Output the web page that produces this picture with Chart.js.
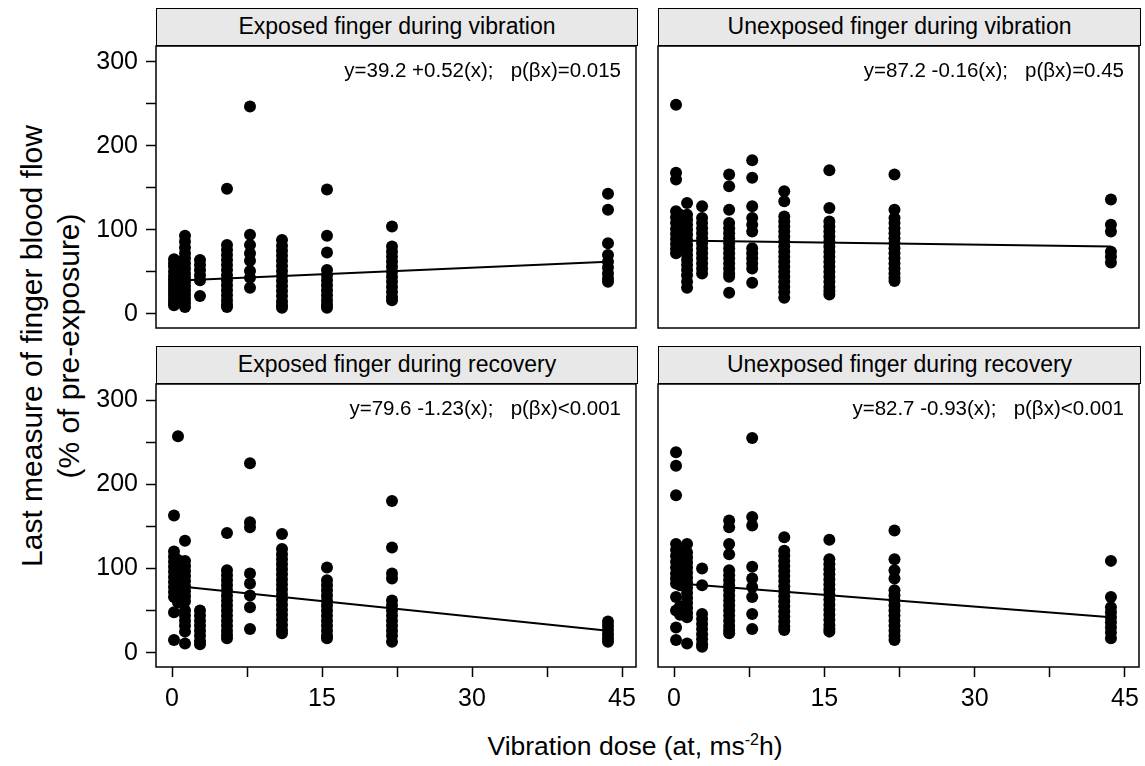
<!DOCTYPE html>
<html>
<head>
<meta charset="utf-8">
<title>Finger blood flow vs vibration dose</title>
<script src="https://cdn.jsdelivr.net/npm/chart.js@4.4.1/dist/chart.umd.min.js"></script>
<style>
  html, body { margin: 0; padding: 0; background: #fff; }
  #page {
    position: relative; width: 1145px; height: 766px; overflow: hidden;
    font-family: 'Liberation Sans', Arial, sans-serif; color: #000;
  }
  .strip {
    position: absolute; box-sizing: border-box; height: 38px;
    border: 1.5px solid #000; background: #e8e8e8;
    font-size: 23px; line-height: 34px; text-align: center; white-space: nowrap;
  }
  canvas { position: absolute; }
  #xTitle {
    position: absolute; left: 335px; width: 600px; top: 730px;
    text-align: center; font-size: 26.5px; line-height: 32px; white-space: nowrap;
  }
  #xTitle .sup { font-size: 16px; position: relative; top: -10px; }
  #yTitle {
    position: absolute; width: 560px; height: 74px; left: -230px; top: 309px;
    transform: rotate(-90deg); transform-origin: 50% 50%;
    text-align: center; font-size: 30px; line-height: 37px; white-space: nowrap;
  }
</style>
</head>
<body>
<div id="page">
  <div id="yTitle">Last measure of finger blood flow<br>(% of pre-exposure)</div>
  <div id="xTitle">Vibration dose (at, ms<span class="sup">-2</span>h)</div>
</div>
<script>
// dose groups (at, m/s^2 h) shared by all four panels
const doses = [0.2, 0.6, 1.3, 2.8, 5.5, 7.8, 11.0, 15.5, 22.0, 43.6];

const panelTitles = [
    'Exposed finger during vibration',
    'Unexposed finger during vibration',
    'Exposed finger during recovery',
    'Unexposed finger during recovery'
];

// regression fits: y = intercept + slope * x
const intercepts = [39.2, 87.2, 79.6, 82.7];
const slopes = [0.52, -0.16, -1.23, -0.93];
const pValues = ['=0.015', '=0.45', '<0.001', '<0.001'];

// blood flow readings (% of pre-exposure), one list per dose group
const exposedVibration = [
    [65, 60, 56, 50, 45, 41, 37, 33, 29, 25, 21, 17, 13, 10],
    [62, 54, 48, 42, 38, 34, 30, 26, 22, 18, 14],
    [93, 86, 79, 72, 66, 60, 54, 48, 43, 38, 33, 28, 23, 18, 13, 8],
    [64, 58, 52, 46, 40, 21],
    [149, 82, 76, 70, 64, 58, 52, 46, 40, 34, 28, 22, 16, 11, 8],
    [247, 94, 82, 72, 63, 51, 43, 31],
    [88, 81, 75, 69, 63, 57, 51, 45, 39, 33, 27, 21, 15, 10, 7],
    [148, 93, 73, 52, 46, 40, 34, 28, 22, 16, 11, 7],
    [104, 80, 74, 68, 62, 56, 50, 44, 38, 32, 26, 20, 16],
    [143, 124, 84, 70, 62, 55, 48, 42, 38]
];
const unexposedVibration = [
    [249, 168, 160, 122, 115, 108, 101, 95, 89, 83, 77, 72],
    [118, 110, 102, 96, 90, 84, 78],
    [132, 118, 112, 106, 100, 94, 88, 82, 76, 70, 64, 58, 52, 46, 38, 31],
    [128, 114, 108, 102, 96, 90, 84, 78, 72, 66, 60, 54, 48],
    [166, 152, 124, 108, 102, 96, 90, 84, 78, 72, 66, 60, 54, 48, 44, 25],
    [183, 162, 128, 114, 106, 98, 78, 72, 66, 60, 54, 37],
    [146, 134, 116, 110, 104, 98, 92, 86, 80, 74, 68, 62, 56, 50, 44, 38, 32, 26, 19],
    [171, 126, 110, 104, 98, 92, 86, 80, 74, 68, 62, 56, 50, 44, 38, 32, 27, 23],
    [166, 124, 114, 108, 102, 96, 90, 84, 78, 72, 66, 60, 54, 48, 43, 39],
    [136, 106, 98, 74, 68, 61]
];
const exposedRecovery = [
    [163, 120, 114, 108, 102, 96, 90, 84, 78, 72, 66, 48, 15],
    [257, 110, 100, 92, 84, 76, 70, 60],
    [133, 109, 103, 97, 91, 85, 79, 73, 67, 61, 50, 44, 38, 32, 25, 11],
    [50, 44, 38, 32, 26, 20, 14, 10],
    [142, 98, 92, 86, 80, 74, 68, 62, 56, 50, 44, 38, 32, 26, 21, 17],
    [225, 155, 149, 94, 82, 68, 54, 28],
    [141, 123, 117, 111, 105, 99, 93, 87, 81, 75, 69, 63, 57, 51, 45, 39, 33, 27, 23],
    [101, 86, 80, 74, 68, 62, 56, 50, 44, 38, 32, 26, 20, 17],
    [180, 125, 94, 88, 62, 56, 50, 44, 38, 32, 26, 20, 13],
    [37, 32, 27, 22, 17, 13]
];
const unexposedRecovery = [
    [238, 222, 187, 129, 122, 115, 108, 101, 94, 88, 82, 66, 50, 30, 15],
    [120, 110, 100, 90, 80, 55, 45],
    [129, 119, 113, 107, 101, 95, 89, 83, 77, 71, 65, 59, 53, 47, 42, 11],
    [100, 80, 46, 40, 34, 28, 22, 16, 10, 7],
    [157, 149, 129, 117, 98, 92, 86, 80, 74, 68, 62, 56, 50, 44, 38, 32, 27, 23],
    [255, 161, 151, 102, 88, 78, 66, 46, 28],
    [137, 121, 115, 109, 103, 97, 91, 85, 79, 73, 67, 61, 55, 49, 43, 37, 31, 27],
    [134, 111, 105, 99, 93, 87, 81, 75, 69, 63, 57, 51, 45, 39, 33, 28, 25],
    [145, 111, 98, 88, 74, 68, 62, 56, 50, 44, 38, 32, 26, 20, 15],
    [109, 66, 54, 48, 42, 36, 30, 24, 17]
];

const panelData = [exposedVibration, unexposedVibration, exposedRecovery, unexposedRecovery];

const yTicks = [0, 100, 200, 300];
const xTicks = [0, 15, 30, 45];

const FONT = "'Liberation Sans', Arial, sans-serif";
const X_MIN = -1.6, X_MAX = 46.4;
const Y_MIN = -17, Y_MAX = 319;

// plot box edges in page pixels, and which outer axes each panel shows
const layoutBoxes = [
    { left: 156, right: 638, top: 45.5, bottom: 327.5, yAxis: true,  xAxis: false },
    { left: 658, right: 1141, top: 45.5, bottom: 327.5, yAxis: false, xAxis: false },
    { left: 156, right: 638, top: 383.5, bottom: 666.5, yAxis: true,  xAxis: true },
    { left: 658, right: 1141, top: 383.5, bottom: 666.5, yAxis: false, xAxis: true }
];

// black frame round the plotting area
const panelBox = {
    id: 'panelBox',
    afterDraw(chart) {
        const { ctx, chartArea: a } = chart;
        ctx.save();
        ctx.strokeStyle = '#000';
        ctx.lineWidth = 1.5;
        ctx.strokeRect(a.left, a.top, a.right - a.left, a.bottom - a.top);
        ctx.restore();
    }
};

// regression equation in the top right corner
const fitLabel = {
    id: 'fitLabel',
    afterDatasetsDraw(chart, args, opts) {
        const { ctx, chartArea: a } = chart;
        ctx.save();
        ctx.font = '20.5px ' + FONT;
        ctx.fillStyle = '#000';
        ctx.textAlign = 'right';
        ctx.textBaseline = 'middle';
        ctx.fillText(opts.text, a.right - 15, a.top + 25);
        ctx.restore();
    }
};

function fmtSlope(b) {
    return (b >= 0 ? '+' : '') + b.toFixed(2);
}

function buildPanel(i) {
    const box = layoutBoxes[i];
    const page = document.getElementById('page');

    const strip = document.createElement('div');
    strip.className = 'strip';
    strip.style.left = box.left + 'px';
    strip.style.width = (box.right - box.left) + 'px';
    strip.style.top = (box.top - 37.5) + 'px';
    strip.textContent = panelTitles[i];
    page.appendChild(strip);

    const Y_AXIS_W = 156;
    const X_AXIS_H = 50;
    const canvasLeft = box.yAxis ? 0 : box.left - 28;
    const canvasTop = box.top - 28;
    const canvasRight = box.right + 4;
    const canvasBottom = box.bottom + (box.xAxis ? X_AXIS_H + 30 : 27);
    const cw = Math.round(canvasRight - canvasLeft);
    const ch = Math.round(canvasBottom - canvasTop);

    const canvas = document.createElement('canvas');
    canvas.width = cw;
    canvas.height = ch;
    canvas.style.left = canvasLeft + 'px';
    canvas.style.top = canvasTop + 'px';
    canvas.style.width = cw + 'px';
    canvas.style.height = ch + 'px';
    page.appendChild(canvas);

    const padding = {
        left: box.yAxis ? box.left - canvasLeft - Y_AXIS_W : box.left - canvasLeft,
        right: cw - (box.right - canvasLeft),
        top: box.top - canvasTop,
        bottom: ch - (box.bottom - canvasTop) - (box.xAxis ? X_AXIS_H : 0)
    };

    const points = [];
    panelData[i].forEach((vals, k) => {
        vals.forEach(v => points.push({ x: doses[k], y: v }));
    });

    const x0 = doses[0], x1 = doses[doses.length - 1];
    const fitLine = [
        { x: x0, y: intercepts[i] + slopes[i] * x0 },
        { x: x1, y: intercepts[i] + slopes[i] * x1 }
    ];

    const tickFont = { family: FONT, size: 25 };

    const xScale = {
        type: 'linear',
        min: X_MIN,
        max: X_MAX,
        display: box.xAxis,
        border: { display: false },
        grid: { drawOnChartArea: false, tickLength: 10, tickColor: '#000', tickWidth: 1.5 },
        ticks: {
            stepSize: 7.5,
            includeBounds: false,
            autoSkip: false,
            maxRotation: 0,
            color: '#000',
            font: tickFont,
            padding: 7,
            callback: v => xTicks.includes(v) ? String(v) : ''
        }
    };
    if (box.xAxis) {
        xScale.afterFit = s => { s.height = X_AXIS_H; s.paddingLeft = 0; s.paddingRight = 0; };
    }

    const yScale = {
        type: 'linear',
        min: Y_MIN,
        max: Y_MAX,
        display: box.yAxis,
        border: { display: false },
        grid: { drawOnChartArea: false, tickLength: 10, tickColor: '#000', tickWidth: 1.5 },
        ticks: {
            stepSize: 50,
            includeBounds: false,
            color: '#000',
            font: tickFont,
            padding: 8,
            callback: v => yTicks.includes(v) ? String(v) : ''
        }
    };
    if (box.yAxis) {
        yScale.afterFit = s => { s.width = Y_AXIS_W; s.paddingTop = 0; s.paddingBottom = 0; };
    }

    new Chart(canvas, {
        type: 'scatter',
        data: {
            datasets: [
                {
                    data: points,
                    backgroundColor: '#000',
                    borderWidth: 0,
                    pointRadius: 6,
                    order: 2
                },
                {
                    data: fitLine,
                    showLine: true,
                    borderColor: '#000',
                    borderWidth: 2,
                    pointRadius: 0,
                    order: 1
                }
            ]
        },
        options: {
            responsive: false,
            animation: false,
            events: [],
            layout: { padding: padding },
            plugins: {
                legend: { display: false },
                tooltip: { enabled: false },
                fitLabel: {
                    text: `y=${intercepts[i].toFixed(1)} ${fmtSlope(slopes[i])}(x);   p(βx)${pValues[i]}`
                }
            },
            scales: { x: xScale, y: yScale }
        },
        plugins: [panelBox, fitLabel]
    });
}

for (let i = 0; i < 4; i++) buildPanel(i);
</script>
</body>
</html>
